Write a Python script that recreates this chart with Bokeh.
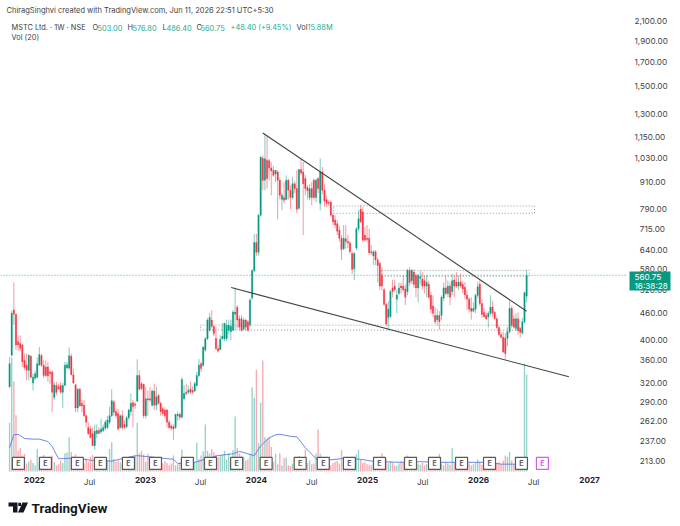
import pandas as pd
from bokeh.core.properties import value
from bokeh.embed import file_html
from bokeh.models import (BoxAnnotation, ColumnDataSource, FixedTicker, Label, LinearAxis, LinearScale,
                          PolyAnnotation, Range1d)
from bokeh.plotting import figure
from bokeh.resources import INLINE

opens = [314,370,468,458,397,393,390,360,351,342, 368,320,328,330,351,369,351,348,348,339,
         339,297,316,314,316,305,316,346,346,368, 334,317,281,310,288,285,270,254,252,246,
         231,246,250,248,250,253,254,261,270,290, 276,273,254,270,258,255,267,276,289,287,
         291,333,319,318,270,295,295,285,307,285, 300,288,280,278,278,261,256,255,254,270,
         272,268,295,305,305,310,308,307,316,333, 354,351,380,403,421,444,430,404,383,381,
         403,403,403,421,418,421,458,475,447,447, 424,444,440,433,498,574,665,632,766,1030,
         919,1020,1017,980,968,950,960,919,832,840, 832,919,873,840,903,880,795,972,960,927,
         885,840,880,919,840,927,815,960,873,830, 820,820,766,747,733,709,680,644,678,668,
         663,628,580,646,714,790,780,691,680,680, 634,620,634,607,597,561,520,482,450,452,
         525,530,495,510,530,530,522,515,575,545, 570,560,525,552,550,545,530,535,505,478,
         455,445,455,455,498,525,510,530,515,547, 541,530,541,535,527,506,495,472,465,470,
         505,535,484,462,455,452,460,475,462,447, 427,412,406,404,404,418,472,447,425,447,
         425,415,440,503]
highs = [366,466,540,460,410,410,392,373,373,371, 370,336,342,366,386,373,360,360,357,342,
         342,322,322,319,322,320,357,357,385,373, 345,318,312,312,293,293,272,261,256,254,
         258,258,254,266,258,264,270,283,310,293, 280,280,272,278,264,270,280,303,293,290,
         362,342,322,319,314,308,314,310,319,314, 303,290,283,282,280,264,258,258,272,276,
         274,330,317,319,316,322,314,322,339,363, 357,387,407,449,460,468,432,428,390,410,
         437,437,445,445,445,468,526,480,455,455, 450,447,444,498,578,695,695,772,1040,1045,
         1170,1161,1028,1010,990,968,968,935,860,910, 943,927,895,935,915,968,975,1028,1010,945,
         895,900,910,927,927,935,1030,985,900,850, 828,828,775,766,747,725,691,728,728,691,
         670,634,632,720,786,807,800,722,728,714, 656,639,639,615,600,585,525,486,490,520,
         548,548,520,540,540,560,535,580,585,580, 578,565,565,575,570,558,560,545,515,505,
         475,470,465,505,540,560,545,540,565,560, 570,560,565,545,541,520,500,500,487,510,
         541,545,495,473,462,465,505,490,465,452, 432,418,418,415,428,495,478,455,460,462,
         428,449,515,576.8]
lows = [312,368,433,380,378,378,348,342,325,325, 328,308,325,328,351,348,328,330,322,319,
        275,293,300,310,303,281,316,344,342,333, 319,275,275,283,275,268,254,244,240,231,
        226,240,246,246,248,250,252,258,268,270, 266,250,252,250,252,253,264,270,254,280,
        291,308,308,266,266,270,290,283,278,278, 286,270,270,266,254,252,250,238,252,263,
        264,266,293,300,302,302,302,305,314,330, 339,348,377,400,418,425,408,380,375,380,
        400,398,398,412,400,420,421,425,421,418, 420,421,418,428,493,570,620,622,760,873,
        873,880,919,850,935,910,750,832,786,815, 828,832,790,832,860,775,788,945,691,850,
        832,828,807,832,820,860,786,855,800,800, 805,760,728,716,691,668,607,639,644,646,
        628,565,547,639,705,735,668,668,665,623, 623,591,591,541,519,519,478,430,421,450,
        500,515,460,505,510,515,480,505,530,535, 525,500,487,535,520,510,500,495,460,450,
        435,432,422,445,490,505,500,480,505,500, 525,520,525,510,495,468,462,445,462,460,
        498,478,450,449,444,427,455,450,444,425, 408,403,374,362,388,414,427,425,420,412,
        405,412,436,486.4]
closes = [354,460,458,390,390,383,357,347,342,370, 330,330,336,354,371,351,333,333,332,336,
          305,317,305,310,305,316,351,352,369,334, 320,281,310,284,284,270,261,246,241,231,
          249,250,246,252,254,261,264,270,292,275, 270,252,270,254,254,267,278,288,283,285,
          333,310,311,270,295,293,293,307,285,298, 288,276,273,270,261,254,253,252,272,272,
          268,326,303,303,308,305,305,319,333,351, 345,386,403,444,450,430,414,383,378,402,
          408,437,432,432,430,463,463,444,428,421, 444,428,421,493,575,665,632,766,1037,919,
          1028,927,980,965,943,968,919,850,850,828, 919,873,840,903,880,790,972,955,903,880,
          870,880,840,840,919,880,960,873,825,815, 815,766,740,728,705,680,641,680,668,663,
          634,578,628,714,752,741,673,673,675,630, 630,634,607,590,530,530,482,435,470,515,
          515,520,506,525,525,520,500,575,540,575, 535,525,560,556,530,530,540,500,470,460,
          440,455,440,500,525,510,530,500,545,530, 530,541,530,522,506,495,470,465,472,505,
          528,484,457,452,447,460,475,460,447,427, 412,406,376,373,418,472,432,428,447,420,
          417,440,512,560.75]
volumes = [8.0,18.7,14.8,9.2,3.4,3.8,2.6,2.9,1.3,1.6, 1.9,1.4,1.0,3.7,1.5,2.4,2.7,2.0,1.6,1.2,
           2.6,1.5,1.0,1.2,1.8,1.4,3.0,3.1,5.6,3.2, 2.4,2.8,1.6,1.9,1.5,1.3,2.2,1.6,2.4,2.7,
           2.2,1.4,1.7,1.0,1.2,1.3,1.9,3.7,4.8,2.1, 1.6,1.8,1.5,1.2,1.4,1.0,1.3,1.1,1.5,2.6,
           8.0,3.0,3.4,2.8,1.6,2.9,2.0,1.5,1.4,1.2, 1.0,1.6,1.3,1.7,1.4,1.0,1.3,2.6,1.0,1.2,
           1.5,3.6,1.2,1.4,1.0,1.1,2.2,1.6,4.7,2.0, 2.6,3.3,7.7,3.4,3.0,3.7,3.2,2.8,2.3,2.5,
           2.8,3.4,2.0,3.0,1.6,3.5,9.0,3.9,3.0,2.6, 2.4,1.8,2.0,2.9,13.8,12.1,16.7,4.6,11.3,18.2,
           5.6,5.4,5.7,4.0,1.6,2.9,1.2,3.0,1.0,2.2, 2.3,1.0,0.9,1.3,1.0,0.8,2.5,1.5,1.5,3.6,
           1.4,1.8,1.2,1.3,2.9,6.9,2.9,1.6,1.5,1.0, 1.2,1.0,1.4,1.6,1.7,1.3,3.5,1.3,1.1,0.9,
           1.2,1.6,1.0,2.8,3.6,2.0,1.4,1.5,1.2,1.1, 1.0,1.4,1.1,1.5,1.2,3.0,1.6,2.0,1.3,1.7,
           1.4,1.0,0.9,1.3,1.7,1.5,2.1,2.6,1.6,1.4, 1.2,1.0,1.3,1.1,1.4,1.0,1.2,1.7,1.3,1.0,
           1.5,1.2,2.9,1.3,1.0,1.6,1.3,1.1,3.8,1.4, 1.2,1.0,1.3,1.6,1.1,1.8,1.3,1.0,1.2,1.5,
           2.0,1.6,1.1,0.9,1.2,1.4,2.1,1.5,1.0,1.3, 1.6,1.2,1.8,2.6,2.4,3.2,1.8,1.2,1.4,1.0,
           1.1,1.4,17.7,15.88]
# sparse read of the 20-week volume average: week number, value in millions
vol_ma_week = [0,2,4,7,11,14,18,20,23,25,30,39,48,58,60,77,79,85,90,98,105,108,112,115,118,122,125,127,133,135,139,144,148,156,165,172,184,193,202,212,225,231,238,241,243]
vol_ma =      [3.9,6.0,6.1,5.4,5.3,5.3,4.9,4.1,2.1,2.1,2.2,1.8,1.7,2.5,2.6,2.0,1.3,1.3,1.8,2.6,2.9,3.3,2.9,2.6,4.2,5.5,6.0,6.1,5.7,5.7,3.9,2.1,1.8,2.1,2.0,1.6,1.5,1.6,1.5,1.5,1.5,1.2,1.2,1.5,2.1]

earnings_dates = ["2021-11-09","2022-02-06","2022-05-22","2022-08-06","2022-11-06","2023-02-03","2023-05-19",
                  "2023-08-03","2023-10-28","2024-02-02","2024-05-24","2024-08-08","2024-11-02","2025-02-09",
                  "2025-05-22","2025-08-09","2025-11-06","2026-02-06","2026-05-22"]
next_earnings = ["2026-07-30"]
year_ticks = {"2022-01-01": "2022", "2023-01-01": "2023", "2024-01-01": "2024", "2025-01-01": "2025", "2026-01-01": "2026", "2027-01-01": "2027"}
month_ticks = {"2022-07-01": "Jul", "2023-07-01": "Jul", "2024-07-01": "Jul", "2025-07-01": "Jul", "2026-07-01": "Jul"}
price_ticks = [213,237,262,290,320,360,400,460,520,580,640,715,790,910,1030,1150,1300,1500,1700,1900,2100]
upper_trend = (["2024-01-22","2026-06-08"], [1175,465])
lower_trend = (["2023-10-10","2026-10-25"], [526,330.6])
zones = [("2024-09-11","2026-07-04",774,804),("2025-02-16","2026-06-17",558,575),("2023-07-01","2026-05-15",421.5,432.5)]
last_price = 560.75

GREEN, RED = "#089981", "#f23645"
TEXT = "#3c3f47"
FONT = "Inter"
W, H = 680, 526

def ms(d):
    return pd.Timestamp(d).timestamp() * 1000

DAY = 86400000
dates = pd.date_range(end="2026-06-08", periods=len(closes), freq="7D")
x = [d.timestamp() * 1000 for d in dates]
colors = [GREEN if c >= o else RED for o, c in zip(opens, closes)]
src = ColumnDataSource(dict(x=x, o=opens, h=highs, l=lows, c=closes, v=volumes, color=colors,
                            top=[max(a, b) for a, b in zip(opens, closes)],
                            bot=[min(a, b) for a, b in zip(opens, closes)]))

# the frame fills the page; the axes are placed inside it at fixed locations
x_left = ms("2022-01-01") - 111.9 * DAY
x_right = ms("2022-01-01") + 2125.3 * DAY
p = figure(width=W, height=H, output_backend="svg", toolbar_location=None, y_axis_type="log",
           x_range=Range1d(x_left, x_right), y_range=Range1d(151.7, 2342), y_axis_location="right",
           min_border_left=0, min_border_top=0, min_border_right=0, min_border_bottom=0)
p.outline_line_color = None
p.grid.visible = False
p.extra_y_ranges = {"vol": Range1d(-9.02, 77.2)}
p.extra_y_scales = {"vol": LinearScale()}

# axes
def price_label(v):
    s = f"{v:,.2f}"
    return s if v >= 1000 else "\u2007" + s

ya = p.yaxis[0]
ya.fixed_location = ms("2022-01-01") + 1947.7 * DAY
ya.ticker = FixedTicker(ticks=price_ticks)
ya.major_label_overrides = {v: price_label(v) for v in price_ticks}
ya.axis_line_color = None
ya.major_tick_line_color = None
ya.minor_tick_line_color = None
ya.major_label_standoff = 2
ya.major_label_text_font = FONT
ya.major_label_text_font_size = "8.2px"
ya.major_label_text_color = TEXT

xa = p.xaxis[0]
xa.fixed_location = 205
xa.ticker = FixedTicker(ticks=[int(ms(d)) for d in month_ticks])
xa.major_label_overrides = {int(ms(d)): t for d, t in month_ticks.items()}
xa2 = LinearAxis(ticker=FixedTicker(ticks=[int(ms(d)) for d in year_ticks]),
                 major_label_overrides={int(ms(d)): t for d, t in year_ticks.items()}, fixed_location=205)
p.add_layout(xa2, "below")
for a, style in ((xa, "normal"), (xa2, "bold")):
    a.axis_line_color = None
    a.major_tick_line_color = None
    a.minor_tick_line_color = None
    a.major_label_text_font = FONT
    a.major_label_text_font_size = "8.2px"
    a.major_label_text_font_style = style
    a.major_label_text_color = "#1e222d" if style == "bold" else TEXT
    a.major_label_standoff = 2

# zones and price line
for x0, x1, lo, hi in zones:
    p.quad(left=[ms(x0)], right=[ms(x1)], bottom=[lo], top=[hi], fill_color=None,
           line_color="#8a8a8a", line_width=0.9, line_dash="1 2")
p.line([x_left, ya.fixed_location], [last_price, last_price], line_color="#22ab94", line_width=0.9, line_dash="1 2")

# volume
w = 4.6 * DAY
p.vbar(x="x", top="v", bottom=0, width=w, source=src, y_range_name="vol", fill_color="color",
       fill_alpha=0.42, line_color=None)
p.line([x[i] for i in vol_ma_week], vol_ma, y_range_name="vol", line_color="#5b7de0", line_width=1, line_alpha=0.9)

# candles
p.segment(x0="x", x1="x", y0="h", y1="l", source=src, line_color="color", line_width=1, line_alpha=0.5)
p.vbar(x="x", top="top", bottom="bot", width=w, source=src, fill_color="color", line_color="color", line_width=0.3)

# trend lines
for ds, vals in (upper_trend, lower_trend):
    p.line([ms(d) for d in ds], vals, line_color="#444444", line_width=1.1)

# earnings badges
E_PRICE = 210.6
for ds, col in ((earnings_dates, "#5a5a5a"), (next_earnings, "#d45ce8")):
    xs = [ms(d) for d in ds]
    ys = [E_PRICE] * len(ds)
    p.scatter(xs, ys, marker="square", size=12, fill_color="white", line_color=col, line_width=1.2)
    p.text(xs, ys, text=["E"] * len(ds), text_align="center", text_baseline="middle",
           text_font=value(FONT), text_font_size="7px", text_font_style="bold", text_color=col)

# texts
def put(text, px, py, color=TEXT, size="7.4px", style="normal", font=FONT):
    p.add_layout(Label(x=px, y=H - py, x_units="screen", y_units="screen", text=text,
                       text_font=font, text_font_size=size, text_font_style=style, text_color=color,
                       text_baseline="middle", text_align="left"))

TEAL = "#22ab94"
put("ChiragSinghvi created with TradingView.com, Jun 11, 2026 22:51 UTC+5:30", 6, 10, TEXT, "7.5px")
put("MSTC Ltd. · 1W · NSE", 11, 27)
for t, px, c in (("O", 92, TEXT), ("503.00", 97, TEAL), ("H", 127, TEXT), ("576.80", 132, TEAL),
                 ("L", 162, TEXT), ("486.40", 166, TEAL), ("C", 196, TEXT), ("560.75", 200, TEAL),
                 ("+48.40 (+9.45%)", 230, TEAL), ("Vol", 296, TEXT), ("15.88M", 307, TEAL)):
    put(t, px, 27, c)
put("Vol (20)", 11, 37)

p.add_layout(BoxAnnotation(left=629, right=670, top=H - 271, bottom=H - 290, left_units="screen", right_units="screen",
                           top_units="screen", bottom_units="screen", fill_color="#089981", fill_alpha=1, line_color=None))
put("560.75", 634, 276, "white", "8.2px")
put("16:38:28", 634, 285, "white", "8.2px")

# watermark
for xs, ys in (([8, 17, 17, 12.5, 12.5, 8], [502, 502, 512, 512, 506, 506]),
               ([22, 27.5, 23, 17.5], [502, 502, 512, 512]),
               ([17.8, 20.5, 20.5, 17.8], [502.2, 502.2, 505.5, 505.5])):
    p.add_layout(PolyAnnotation(xs=xs, ys=[H - b for b in ys], xs_units="screen",
                                ys_units="screen", fill_color="#131722", fill_alpha=1, line_color=None))
put("TradingView", 31, 507, "#131722", "13.5px", "bold", "Roboto")

open("out.html", "w").write(file_html(p, INLINE))
